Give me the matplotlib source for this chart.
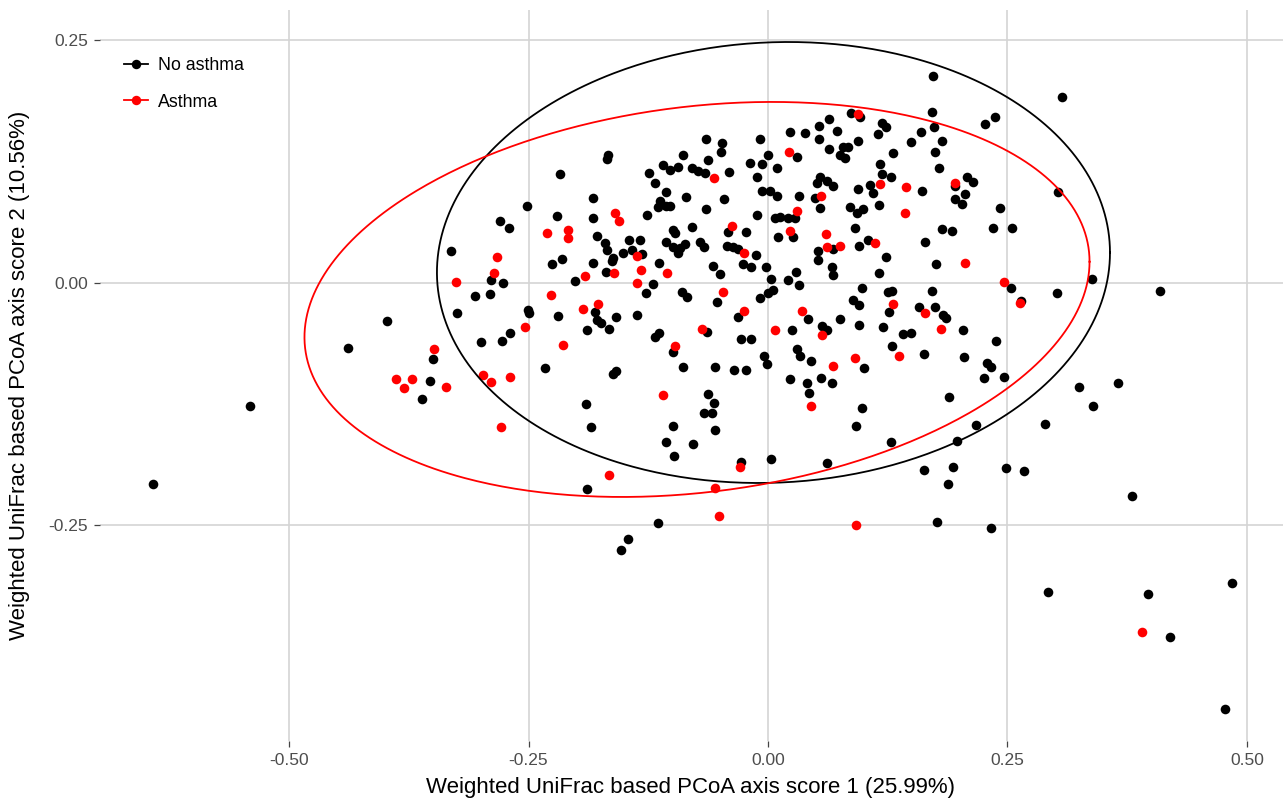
import numpy as np
import matplotlib
matplotlib.use("Agg")
import matplotlib.pyplot as plt
from matplotlib.lines import Line2D

plt.rcParams['font.family'] = ['Liberation Sans', 'DejaVu Sans']

# ---------------- data ----------------
no_asthma_x = [
    0.096, 0.087, 0.064, 0.053, 0.072, 0.023, 0.039, 0.053, 0.094, -0.065, -0.048, -0.008, -0.049, 0.030,
    0.064, 0.078, 0.084, 0.075, 0.080, -0.167, -0.168, -0.089, -0.063, 0.000, -0.019, -0.006, 0.009, -0.110,
    -0.102, -0.094, -0.079, -0.073, -0.066, -0.041, -0.011, -0.124, -0.118, 0.054, 0.062, 0.051, 0.068, 0.094,
    -0.106, -0.086, -0.183, -0.046, -0.006, 0.002, 0.009, 0.032, 0.049, -0.113, -0.115, -0.106, -0.102, -0.065,
    0.054, 0.086, 0.093, 0.099, -0.183, -0.126, -0.011, 0.007, 0.013, 0.021, 0.028, -0.079, -0.042, -0.099,
    -0.097, -0.023, 0.026, 0.010, 0.091, 0.104, -0.179, -0.145, -0.134, -0.170, -0.168, -0.106, -0.071, -0.067,
    -0.043, -0.037, -0.031, -0.099, -0.092, -0.087, -0.094, -0.013, -0.151, -0.142, -0.132, 0.052, 0.068, 0.095,
    -0.162,
    -0.183, -0.169, -0.163, -0.114, -0.120, -0.127, -0.057, -0.050, -0.026, -0.018, -0.002, 0.003, -0.090, -0.085,
    -0.053, -0.008, 0.000, 0.005, 0.021, 0.029, 0.032, 0.052, 0.067, 0.068, 0.098, -0.181, -0.179, -0.174,
    -0.159, -0.137, -0.189, -0.166, -0.031, 0.042, 0.075, 0.089, 0.095, 0.095, -0.064, -0.118, -0.114, -0.099,
    -0.028, -0.018, 0.025, 0.056, 0.062, -0.004, -0.001, 0.030, 0.033, 0.045, 0.100, -0.089, -0.055, -0.035,
    -0.023, -0.162, -0.159, 0.023, 0.055, 0.067, 0.041, 0.043, -0.063, -0.056, -0.067, -0.058, 0.098, -0.190,
    -0.185, -0.099, -0.055, -0.106, -0.078, -0.098, -0.028, 0.003, 0.062, 0.092, -0.189, -0.115, -0.146, -0.153,
    0.217, 0.289, 0.128, 0.197, 0.163, 0.193, 0.188, 0.248, 0.267, 0.380, 0.176, 0.233,
    0.123, 0.175, 0.116, 0.125, 0.129, 0.171, 0.254, 0.264, 0.302, 0.338, 0.126, 0.158, 0.174, 0.183,
    0.186, 0.120, 0.141, 0.149, 0.204, 0.238, 0.129, 0.163, 0.205, 0.229, 0.233, 0.225, 0.246, 0.189,
    0.325, 0.365, 0.339,
    0.172, 0.307, 0.171, 0.227, 0.237, 0.119, 0.123, 0.115, 0.173, 0.160, 0.182, 0.149, 0.130, 0.174,
    0.117, 0.178, 0.119, 0.128, 0.106, 0.110, 0.161, 0.195, 0.208, 0.214, 0.206, 0.195, 0.203, 0.303,
    0.116, 0.242, 0.235, 0.255, 0.182, 0.192, 0.164,
    -0.217, -0.252, -0.220, -0.280, -0.270, -0.331, -0.215,
    -0.289, -0.277, -0.225, -0.201, -0.306, -0.290, -0.325, -0.251, -0.250, -0.219, -0.398, -0.300, -0.278,
    -0.269, -0.438, -0.350, -0.233, -0.353, -0.361,
    0.292, 0.397, 0.484, 0.420, 0.477, -0.642, -0.541, 0.409,
]
no_asthma_y = [
    0.171, 0.175, 0.169, 0.162, 0.157, 0.156, 0.155, 0.148, 0.146, 0.148, 0.144, 0.148, 0.135, 0.130,
    0.138, 0.140, 0.140, 0.132, 0.129, 0.132, 0.128, 0.132, 0.127, 0.132, 0.124, 0.123, 0.119, 0.122,
    0.116, 0.120, 0.118, 0.115, 0.113, 0.114, 0.109, 0.113, 0.103, 0.109, 0.105, 0.103, 0.100, 0.097,
    0.094, 0.089, 0.088, 0.087, 0.095, 0.095, 0.090, 0.090, 0.088, 0.084, 0.078, 0.079, 0.079, 0.076,
    0.077, 0.078, 0.072, 0.076, 0.067, 0.070, 0.070, 0.067, 0.068, 0.067, 0.067, 0.058, 0.053, 0.055,
    0.052, 0.053, 0.047, 0.047, 0.057, 0.044, 0.048, 0.044, 0.044, 0.041, 0.034, 0.042, 0.042, 0.037,
    0.038, 0.037, 0.035, 0.037, 0.036, 0.040, 0.031, 0.029, 0.031, 0.034, 0.030, 0.033, 0.035, 0.038,
    0.026,
    0.021, 0.011, 0.023, 0.021, -0.001, -0.010, 0.018, 0.009, 0.020, 0.016, 0.016, 0.004, -0.009, -0.014,
    -0.020, -0.015, -0.010, -0.007, 0.003, 0.011, -0.002, 0.024, 0.016, 0.008, -0.005, -0.030, -0.038, -0.041,
    -0.035, -0.033, -0.048, -0.047, -0.035, -0.037, -0.037, -0.018, -0.023, -0.043, -0.051, -0.056, -0.052, -0.071,
    -0.058, -0.058, -0.049, -0.044, -0.049, -0.075, -0.084, -0.068, -0.075, -0.080, -0.088, -0.087, -0.087, -0.090,
    -0.090, -0.094, -0.091, -0.099, -0.098, -0.103, -0.103, -0.113, -0.114, -0.124, -0.134, -0.134, -0.129, -0.125,
    -0.148, -0.147, -0.152, -0.164, -0.166, -0.178, -0.185, -0.181, -0.186, -0.147, -0.212, -0.247, -0.264, -0.275,
    -0.146, -0.145, -0.164, -0.163, -0.193, -0.190, -0.207, -0.191, -0.194, -0.220, -0.246, -0.253,
    0.027, 0.020, 0.010, -0.009, -0.008, -0.008, -0.005, -0.019, -0.010, 0.004, -0.030, -0.025, -0.025, -0.033,
    -0.036, -0.045, -0.053, -0.052, -0.048, -0.060, -0.065, -0.073, -0.076, -0.082, -0.087, -0.098, -0.097, -0.118,
    -0.107, -0.103, -0.127,
    0.213, 0.192, 0.176, 0.164, 0.171, 0.165, 0.161, 0.154, 0.161, 0.156, 0.146, 0.145, 0.134, 0.135,
    0.123, 0.118, 0.112, 0.109, 0.101, 0.093, 0.095, 0.100, 0.109, 0.104, 0.092, 0.087, 0.081, 0.094,
    0.080, 0.077, 0.057, 0.057, 0.056, 0.054, 0.042,
    0.112, 0.079, 0.069, 0.064, 0.057, 0.033, 0.025,
    0.003, 0.000, 0.020, 0.002, -0.013, -0.011, -0.031, -0.028, -0.031, -0.034, -0.039, -0.061, -0.060,
    -0.052, -0.067, -0.078, -0.088, -0.101, -0.120,
    -0.319, -0.321, -0.309, -0.365, -0.439, -0.207, -0.127, -0.008,
]
asthma_x = [
    0.094, 0.022, -0.056, 0.055, 0.030, -0.160, -0.156, -0.038, 0.023, 0.061, -0.025, -0.137, 0.062, 0.075,
    -0.161, -0.191, -0.133, -0.105, -0.137, -0.047, -0.193, -0.177, -0.025, 0.035, -0.069, -0.097, 0.007, 0.056,
    0.091, 0.068, -0.110, 0.045,
    -0.029, -0.166, -0.055, -0.051, 0.092,
    0.206, 0.246, 0.263, 0.130, 0.164, 0.181, 0.137,
    0.117, 0.144, 0.195, 0.143, 0.112,
    -0.231, -0.209, -0.209, -0.283,
    -0.286, -0.326, -0.227, -0.254, -0.214, -0.349, -0.388, -0.372, -0.380, -0.336, -0.297, -0.289, -0.269,
    -0.279, 0.390,
]
asthma_y = [
    0.174, 0.135, 0.108, 0.090, 0.074, 0.072, 0.064, 0.059, 0.054, 0.050, 0.031, 0.028, 0.037, 0.038,
    0.010, 0.007, 0.013, 0.010, 0.000, -0.009, -0.027, -0.022, -0.029, -0.029, -0.047, -0.065, -0.048, -0.054,
    -0.077, -0.086, -0.116, -0.127,
    -0.190, -0.198, -0.211, -0.240, -0.250,
    0.021, 0.001, -0.021, -0.022, -0.031, -0.047, -0.075,
    0.102, 0.099, 0.103, 0.072, 0.041,
    0.052, 0.055, 0.046, 0.027,
    0.010, 0.001, -0.012, -0.045, -0.064, -0.068, -0.099, -0.099, -0.108, -0.107, -0.095, -0.102, -0.097,
    -0.148, -0.360,
]

# 95% ellipses (stat_ellipse): centre and covariance
ellipse_groups = ["No asthma", "Asthma"]
ellipse_center_x = [0.0057, -0.0741]
ellipse_center_y = [0.0211, -0.0170]
ellipse_var_x = [0.1234, 0.1679]
ellipse_var_y = [0.05167, 0.04146]
ellipse_cov_xy = [0.00356, 0.01594]

x_ticks = [-0.50, -0.25, 0.00, 0.25, 0.50]
y_ticks = [-0.25, 0.00, 0.25]
x_tick_labels = ["-0.50", "-0.25", "0.00", "0.25", "0.50"]
y_tick_labels = ["-0.25", "0.00", "0.25"]

x_title = "Weighted UniFrac based PCoA axis score 1 (25.99%)"
y_title = "Weighted UniFrac based PCoA axis score 2 (10.56%)"

colors = {"No asthma": "#000000", "Asthma": "#FF0000"}

# ---------------- figure ----------------
W, H = 1286, 807
fig = plt.figure(figsize=(W / 100, H / 100), dpi=100)
ax = fig.add_axes([100 / W, (H - 741) / H, 1183 / W, 731 / H])
ax.set_xlim(-0.6973, 0.5376)
ax.set_ylim(-0.4722, 0.2814)

for s in ax.spines.values():
    s.set_visible(False)
ax.set_xticks(x_ticks)
ax.set_xticklabels(x_tick_labels)
ax.set_yticks(y_ticks)
ax.set_yticklabels(y_tick_labels)
ax.tick_params(axis='both', which='major', length=4, width=0.9, color='#444444',
               labelsize=12.5, labelcolor='#4D4D4D', pad=4.5)
ax.grid(True, color='#d4d4d4', linewidth=1.2, zorder=0)
ax.set_axisbelow(True)

ms = 48
ax.scatter(no_asthma_x, no_asthma_y, s=ms, color=colors["No asthma"], linewidths=0, zorder=3)
ax.scatter(asthma_x, asthma_y, s=ms, color=colors["Asthma"], linewidths=0, zorder=3)

t = np.linspace(0, 2 * np.pi, 500)
circle = np.vstack([np.cos(t), np.sin(t)])
for i, g in enumerate(ellipse_groups):
    S = np.array([[ellipse_var_x[i], ellipse_cov_xy[i]],
                  [ellipse_cov_xy[i], ellipse_var_y[i]]])
    L = np.linalg.cholesky(S)
    pts = L @ circle
    ax.plot(pts[0] + ellipse_center_x[i], pts[1] + ellipse_center_y[i],
            color=colors[g], linewidth=1.3, zorder=4)

handles = [Line2D([0], [0], color=colors[g], marker='o', markersize=6.8,
                  linewidth=1.3, markeredgewidth=0) for g in ellipse_groups]
leg = ax.legend(handles, ellipse_groups, loc='upper left',
                bbox_to_anchor=(117 / W, 1 - 50 / H), bbox_transform=fig.transFigure,
                borderaxespad=0, frameon=True, fontsize=12.8, handlelength=1.35,
                handletextpad=0.56, labelspacing=1.1, borderpad=0.4)
leg.get_frame().set_facecolor('white')
leg.get_frame().set_edgecolor('none')
leg.get_frame().set_alpha(1)
leg.set_zorder(5)

fig.text(691 / W, 1 - 787 / H, x_title, ha='center', va='center', fontsize=16, color='black')
fig.text(20 / W, 1 - 375 / H, y_title, ha='center', va='center', rotation=90,
         fontsize=16, color='black')

fig.savefig("out.png", dpi=100)
